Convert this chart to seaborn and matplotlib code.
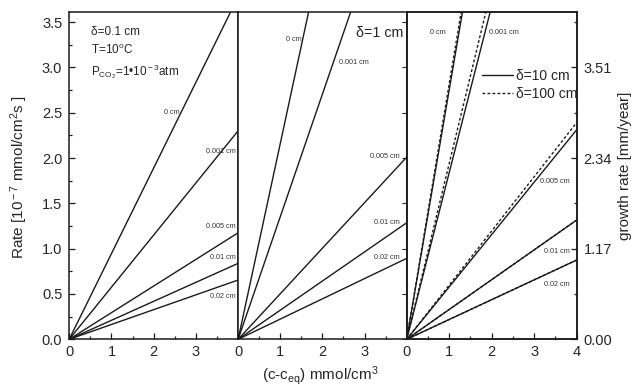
import numpy as np
import pandas as pd
import matplotlib
matplotlib.use("Agg")
import matplotlib.pyplot as plt
from matplotlib.ticker import MultipleLocator, FixedLocator
from matplotlib.lines import Line2D
import seaborn as sns

# film thickness labels and rates at (c-ceq) = 4 mmol/cm3 (lines start at origin)
conc = [0, 4]
thickness = ["0 cm", "0.001 cm", "0.005 cm", "0.01 cm", "0.02 cm"]
rate_d01 = [3.78, 2.30, 1.175, 0.838, 0.654]
rate_d1 = [8.64, 5.41, 2.01, 1.286, 0.893]
rate_d10 = [11.0, 7.35, 2.31, 1.315, 0.874]
rate_d100 = [11.27, 7.75, 2.39, 1.315, 0.874]
growth_ticks = [0.00, 1.17, 2.34, 3.51]   # mm/year, 1.17 per 1e-7 mmol/cm2s

# small labels next to the lines: (x, y, ha)
lab_d01 = [(2.62, 2.50, "right"), (3.95, 2.07, "right"), (3.95, 1.25, "right"),
           (3.95, 0.90, "right"), (3.95, 0.47, "right")]
lab_d1 = [(1.51, 3.31, "right"), (2.39, 3.05, "left"), (3.83, 2.02, "right"),
          (3.83, 1.29, "right"), (3.83, 0.90, "right")]
lab_d10 = [(0.92, 3.38, "right"), (1.94, 3.38, "left"), (3.84, 1.74, "right"),
           (3.83, 0.966, "right"), (3.83, 0.61, "right")]

rows = []
for panel, series in [(0, [("0.1", rate_d01)]), (1, [("1", rate_d1)]),
                      (2, [("10", rate_d10), ("100", rate_d100)])]:
    for delta, vals in series:
        for t, v in zip(thickness, vals):
            rows.append({"panel": panel, "delta": delta, "thick": t, "x": conc[0], "rate": 0.0})
            rows.append({"panel": panel, "delta": delta, "thick": t, "x": conc[1], "rate": v})
df = pd.DataFrame(rows)

sns.set_style("ticks")
plt.rcParams["font.family"] = ["Liberation Sans", "DejaVu Sans"]
plt.rcParams["mathtext.fontset"] = "custom"
plt.rcParams["mathtext.rm"] = "Liberation Sans"
plt.rcParams["mathtext.it"] = "Liberation Sans:italic"
plt.rcParams["axes.linewidth"] = 1.1

fig = plt.figure(figsize=(6.35, 3.9), dpi=100)
lefts = [0.109, 0.375, 0.6405]
widths = [0.266, 0.2655, 0.2675]
bottom, height = 0.130, 0.839
ymax = 3.61
col = "#1a1a1a"
dots = (0, (2.0, 1.6))

axes = []
for i in range(3):
    ax = fig.add_axes([lefts[i], bottom, widths[i], height])
    sub = df[df.panel == i]
    for (delta, t), g in sub.groupby(["delta", "thick"], sort=False):
        ls = dots if delta == "100" else "-"
        sns.lineplot(data=g, x="x", y="rate", ax=ax, color=col, lw=1.0,
                     linestyle=ls, estimator=None, zorder=3 if delta == "100" else 2)
    ax.set_xlim(0, 4)
    ax.set_ylim(0, ymax)
    ax.set_xlabel("")
    ax.set_ylabel("")
    ax.xaxis.set_major_locator(MultipleLocator(1))
    ax.xaxis.set_minor_locator(MultipleLocator(0.5))
    ax.tick_params(axis="x", which="both", direction="in", labelsize=10.5, pad=4,
                   color=col)
    ax.tick_params(axis="x", which="major", length=4, width=0.9)
    ax.tick_params(axis="x", which="minor", length=2.2, width=0.9)
    if i < 2:
        ax.xaxis.set_major_locator(FixedLocator([0, 1, 2, 3]))
    for s in ax.spines.values():
        s.set_color(col)
    axes.append(ax)

# left axis only on first panel
axes[0].yaxis.set_major_locator(MultipleLocator(0.5))
axes[0].yaxis.set_minor_locator(MultipleLocator(0.25))
axes[0].yaxis.set_major_formatter(matplotlib.ticker.FormatStrFormatter("%.1f"))
axes[0].tick_params(axis="y", which="both", direction="in", labelsize=10.5, pad=5, color=col)
axes[0].tick_params(axis="y", which="major", length=4, width=0.9)
axes[0].tick_params(axis="y", which="minor", length=2.2, width=0.9)
for ax in axes[1:]:
    ax.tick_params(axis="y", which="both", left=False, labelleft=False)

# right growth rate axis
ax_r = axes[2].twinx()
ax_r.set_ylim(0, ymax * 1.17)
ax_r.yaxis.set_major_locator(FixedLocator(growth_ticks))
ax_r.yaxis.set_minor_locator(MultipleLocator(0.585))
ax_r.yaxis.set_major_formatter(matplotlib.ticker.FormatStrFormatter("%.2f"))
ax_r.tick_params(axis="y", which="both", direction="in", labelsize=10.5, pad=5, color=col)
ax_r.tick_params(axis="y", which="major", length=4, width=0.9)
ax_r.tick_params(axis="y", which="minor", length=2.2, width=0.9)
for s in ax_r.spines.values():
    s.set_color(col)

# thickness labels
for ax, labs in zip(axes, [lab_d01, lab_d1, lab_d10]):
    for t, (x, y, ha) in zip(thickness, labs):
        ax.text(x, y, t, fontsize=5.2, ha=ha, va="center", color="#333333")

axes[0].text(0.51, 3.39, "δ=0.1 cm", fontsize=8.5, va="center")
axes[0].text(0.51, 3.19, "T=10$^{\\rm o}$C", fontsize=8.5, va="center")
axes[0].text(0.51, 2.95, "P$_{\\rm CO_2}$=1•10$^{\\rm -3}$atm", fontsize=8.5, va="center")
axes[1].text(3.93, 3.38, "δ=1 cm", fontsize=10.3, ha="right", va="center")

handles = [Line2D([], [], color=col, lw=1.0),
           Line2D([], [], color=col, lw=1.0, linestyle=dots)]
axes[2].legend(handles, ["δ=10 cm", "δ=100 cm"], loc="upper left",
               bbox_to_anchor=(0.445, 0.825), frameon=False, fontsize=10,
               borderpad=0, borderaxespad=0, handlelength=2.2, handletextpad=0.25,
               labelspacing=0.25)

fig.text(0.031, 0.545, "Rate [10$^{\\rm -7}$ mmol/cm$^{\\rm 2}$s ]", rotation=90,
         ha="center", va="center", fontsize=11)
fig.text(0.505, 0.038, "(c-c$_{\\rm eq}$) mmol/cm$^{\\rm 3}$", ha="center", va="center",
         fontsize=11)
fig.text(0.985, 0.575, "growth rate [mm/year]", rotation=90, ha="center", va="center",
         fontsize=11)

fig.savefig("out.png", dpi=100)
